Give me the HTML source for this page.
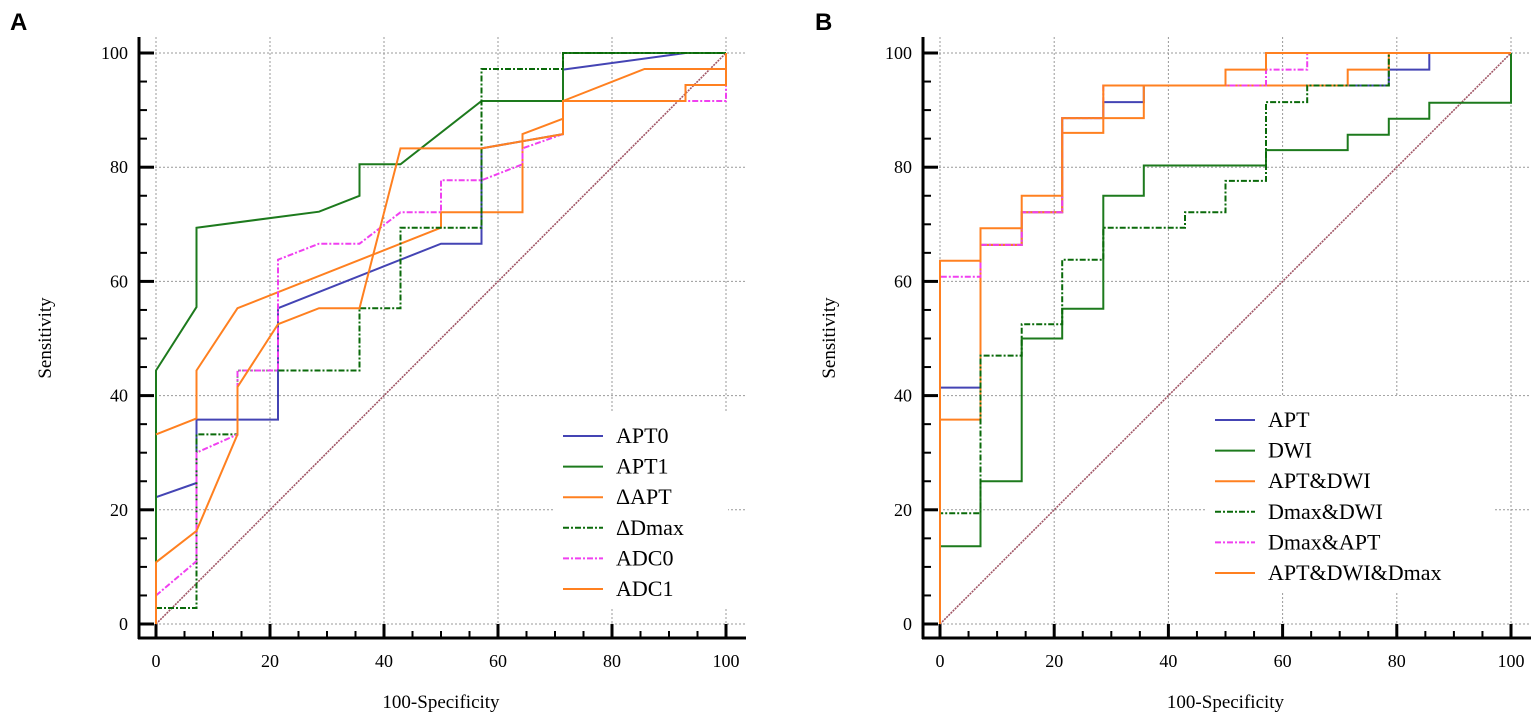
<!DOCTYPE html>
<html><head><meta charset="utf-8"><style>
body{margin:0;background:#fff;}
svg{display:block;font-family:"Liberation Serif",serif;}
</style></head><body>
<svg id="chart" width="1535" height="720" viewBox="0 0 1535 720"></svg>
<script>
// Panel A data
const aNames = ["APT0","APT1","\u0394APT","\u0394Dmax","ADC0","ADC1"];
const aAPT0_x = [0,7.1,7.1,21.4,21.4,50,57.1,57.1,71.4,71.4,92.9,100];
const aAPT0_y = [22.2,24.7,35.8,35.8,55.3,66.6,66.6,83.3,85.8,97.1,100,100];
const aAPT1_x = [0,0,7.1,7.1,28.6,35.7,35.7,42.9,57.1,71.4,71.4,100];
const aAPT1_y = [0,44.4,55.5,69.4,72.2,75,80.5,80.5,91.6,91.6,100,100];
const aDAPT_x = [0,7.1,7.1,14.3,50,50,64.3,64.3,71.4,71.4,85.7,100,100];
const aDAPT_y = [33.2,36,44.4,55.3,69.4,72.1,72.1,85.8,88.5,91.6,97.2,97.2,100];
const aDDmax_x = [0,7.1,7.1,14.3,14.3,35.7,35.7,42.9,42.9,57.1,57.1,71.4,71.4,100];
const aDDmax_y = [2.8,2.8,33.2,33.2,44.4,44.4,55.3,55.3,69.4,69.4,97.2,97.2,100,100];
const aADC0_x = [0,7.1,7.1,14.3,14.3,21.4,21.4,28.6,35.7,42.9,50,50,57.1,64.3,64.3,71.4,71.4,100,100];
const aADC0_y = [5,11,30,33.2,44.4,44.4,63.8,66.6,66.6,72.1,72.1,77.7,77.7,80.5,83.3,85.8,91.6,91.6,94.4];
const aADC1_x = [0,0,7.1,14.3,14.3,21.4,28.6,35.7,42.9,57.1,71.4,71.4,92.9,92.9,100,100];
const aADC1_y = [0,10.8,16.3,33.2,41.5,52.5,55.3,55.3,83.3,83.3,85.8,91.6,91.6,94.4,94.4,100];
// Panel B data
const bNames = ["APT","DWI","APT&DWI","Dmax&DWI","Dmax&APT","APT&DWI&Dmax"];
const bAPT_x = [0,0,7.1,7.1,14.3,14.3,21.4,21.4,28.6,28.6,35.7,35.7,78.6,78.6,85.7,85.7,100];
const bAPT_y = [0,41.4,41.4,66.4,66.4,72.1,72.1,88.6,88.6,91.4,91.4,94.3,94.3,97.1,97.1,100,100];
const bDWI_x = [0,0,7.1,7.1,14.3,14.3,21.4,21.4,28.6,28.6,35.7,35.7,57.1,57.1,71.4,71.4,78.6,78.6,85.7,85.7,100,100];
const bDWI_y = [0,13.6,13.6,25,25,50,50,55.2,55.2,75,75,80.3,80.3,83,83,85.7,85.7,88.5,88.5,91.3,91.3,100];
const bAD_x = [0,0,7.1,7.1,14.3,14.3,21.4,21.4,28.6,28.6,35.7,35.7,71.4,71.4,78.6,78.6,100];
const bAD_y = [0,35.8,35.8,66.4,66.4,72.1,72.1,86,86,88.6,88.6,94.3,94.3,97.1,97.1,100,100];
const bDD_x = [0,0,7.1,7.1,14.3,14.3,21.4,21.4,28.6,28.6,42.9,42.9,50,50,57.1,57.1,64.3,64.3,78.6,78.6];
const bDD_y = [0,19.4,19.4,47,47,52.5,52.5,63.8,63.8,69.4,69.4,72.1,72.1,77.6,77.6,91.4,91.4,94.3,94.3,100];
const bDA_x = [0,0,7.1,7.1,14.3,14.3,21.4,21.4,28.6,28.6,57.1,57.1,64.3,64.3,100];
const bDA_y = [0,60.8,60.8,66.4,66.4,72.1,72.1,88.6,88.6,94.3,94.3,97.1,97.1,100,100];
const bADD_x = [0,0,7.1,7.1,14.3,14.3,21.4,21.4,28.6,28.6,50,50,57.1,57.1,100];
const bADD_y = [0,63.6,63.6,69.3,69.3,75,75,88.6,88.6,94.3,94.3,97.1,97.1,100,100];
const tickLabels = ["0","20","40","60","80","100"];
const tickValues = [0,20,40,60,80,100];

const NS="http://www.w3.org/2000/svg";
const svg=document.getElementById('chart');
function mk(tag,attrs,parent){const e=document.createElementNS(NS,tag);for(const k in attrs)e.setAttribute(k,attrs[k]);(parent||svg).appendChild(e);return e;}

const styles={
 blue:{stroke:"#4444b4",dash:""},
 green:{stroke:"#1d7a1d",dash:""},
 orange:{stroke:"#ff8020",dash:""},
 dd:{stroke:"#0a6a0a",dash:"6 2 2 2"},
 mag:{stroke:"#f040f0",dash:"6 2 2 2"}
};

function panel(id,x0,x100,series,legend){
 const y0=624,y100=53;
 const sx=v=>x0+(x100-x0)*v/100, sy=v=>y0+(y100-y0)*v/100;
 const g=mk('g',{});
 
 
 tickValues.forEach(v=>{
  const gv=mk('line',{x1:sx(v),x2:sx(v),y1:37,y2:638,stroke:"#999","stroke-width":1,"stroke-dasharray":"2 2"},g);
  
  
  const gh=mk('line',{x1:x0-17,x2:x100+20,y1:sy(v),y2:sy(v),stroke:"#999","stroke-width":1,"stroke-dasharray":"2 2"},g);
  
  
 });
 const axL=x0-17, axB=638;
 const ya=mk('line',{x1:axL,x2:axL,y1:37,y2:axB+1,stroke:"#000","stroke-width":3},g);
 
 
 const xa=mk('line',{x1:axL-1,x2:x100+20,y1:axB,y2:axB,stroke:"#000","stroke-width":3},g);
 
 
 for(let v=0;v<=100;v+=5){
  const major=v%20===0;
  mk('line',{x1:axL,x2:axL+(major?15:8),y1:sy(v),y2:sy(v),stroke:"#000","stroke-width":major?3:2},g);
  mk('line',{x1:sx(v),x2:sx(v),y1:axB,y2:axB-(major?14:7),stroke:"#000","stroke-width":major?3:2},g);
 }
 tickLabels.forEach((t,i)=>{
  const v=tickValues[i];
  const ty=mk('text',{x:axL-11,y:sy(v)+6,"text-anchor":"end","font-size":18},g);ty.textContent=t;
  
  
  const tx=mk('text',{x:sx(v),y:667,"text-anchor":"middle","font-size":18},g);tx.textContent=t;
  
  
 });
 const xt=mk('text',{x:(x0+x100)/2,y:708,"text-anchor":"middle","font-size":19},g);xt.textContent="100-Specificity";
 
 
 const yt=mk('text',{x:0,y:0,"text-anchor":"middle","font-size":19,transform:`translate(${axL-88},338) rotate(-90)`},g);yt.textContent="Sensitivity";
 
 
 const lb=mk('rect',{x:legend.x-10,y:legend.y-24,width:legend.w,height:195,fill:"#fff"},g);
 
 
 const dg=mk('line',{x1:sx(0),y1:sy(0),x2:sx(100),y2:sy(100),stroke:"#a05565","stroke-width":1.6,"stroke-dasharray":"2 1"},g);
 
 
 series.forEach(s=>{
  const pts=s.x.map((v,i)=>sx(v).toFixed(1)+","+sy(s.y[i]).toFixed(1)).join(" ");
  const st=styles[s.st];
  const p=mk('polyline',{points:pts,fill:"none",stroke:st.stroke,"stroke-width":2,"stroke-dasharray":st.dash},g);
  
  
 });
 series.forEach((s,i)=>{
  const y=legend.y+i*30.6;
  const st=styles[s.st];
  const ll=mk('line',{x1:legend.x,x2:legend.x+40,y1:y,y2:y,stroke:st.stroke,"stroke-width":2,"stroke-dasharray":st.dash},g);
  
  
  const lt=mk('text',{x:legend.x+53,y:y+7,"font-size":22},g);lt.textContent=s.name;
  
  
 });
}

panel('a',156,726,[
 {name:aNames[0],x:aAPT0_x,y:aAPT0_y,st:"blue"},
 {name:aNames[1],x:aAPT1_x,y:aAPT1_y,st:"green"},
 {name:aNames[2],x:aDAPT_x,y:aDAPT_y,st:"orange"},
 {name:aNames[3],x:aDDmax_x,y:aDDmax_y,st:"dd"},
 {name:aNames[4],x:aADC0_x,y:aADC0_y,st:"mag"},
 {name:aNames[5],x:aADC1_x,y:aADC1_y,st:"orange"}
],{x:563,y:436,w:175});
panel('b',940,1511,[
 {name:bNames[0],x:bAPT_x,y:bAPT_y,st:"blue"},
 {name:bNames[1],x:bDWI_x,y:bDWI_y,st:"green"},
 {name:bNames[2],x:bAD_x,y:bAD_y,st:"orange"},
 {name:bNames[3],x:bDD_x,y:bDD_y,st:"dd"},
 {name:bNames[4],x:bDA_x,y:bDA_y,st:"mag"},
 {name:bNames[5],x:bADD_x,y:bADD_y,st:"orange"}
],{x:1215,y:420,w:290});

const la=mk('text',{x:10,y:30,"font-size":24,"font-weight":"bold","font-family":"Liberation Sans, sans-serif"});la.textContent="A";


const lbb=mk('text',{x:815,y:30,"font-size":24,"font-weight":"bold","font-family":"Liberation Sans, sans-serif"});lbb.textContent="B";


</script>
</body></html>
